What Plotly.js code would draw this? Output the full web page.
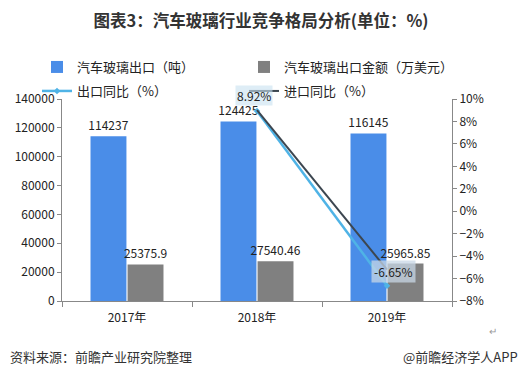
<!DOCTYPE html>
<html><head><meta charset="utf-8">
<script src="https://cdn.plot.ly/plotly-3.0.1.min.js"></script>
<style>html,body{margin:0;padding:0;background:#fff}#c{width:522px;height:379px}</style>
</head><body><div id="c"></div>
<script>
const categories = ['2017年', '2018年', '2019年'];
const exportTons = [114237, 124425, 116145];
const exportValue = [25375.9, 27540.46, 25965.85];
const exportYoY = [null, 8.92, -6.65];
const importYoY = [null, 9.0, -5.2];
const exportTonsLabels = ['114237', '124425', '116145'];
const exportValueLabels = ['25375.9', '27540.46', '25965.85'];

const font = '"Noto Sans CJK SC", "Noto Sans", sans-serif';
const traces = [
  {type:'bar', name:'汽车玻璃出口（吨）', x:categories, y:exportTons, marker:{color:'#4a8de8'}, legend:'legend',
   text:exportTonsLabels, textposition:'outside', constraintext:'none', cliponaxis:false, textfont:{size:12,color:'#222'}},
  {type:'bar', name:'汽车玻璃出口金额（万美元）', x:categories, y:exportValue, marker:{color:'#808080'}, legend:'legend',
   text:exportValueLabels, textposition:'outside', constraintext:'none', cliponaxis:false, textfont:{size:12,color:'#222'}},
  {type:'scatter', mode:'lines+markers', name:'出口同比（%）', x:categories, y:exportYoY, yaxis:'y2', legend:'legend2',
   line:{color:'#4fb3e6', width:2.5}, marker:{symbol:'diamond', size:5, color:'#4fb3e6'}},
  {type:'scatter', mode:'lines', name:'进口同比（%）', x:categories, y:importYoY, yaxis:'y2', legend:'legend2',
   line:{color:'#3c4650', width:2}}
];

const legendBase = {orientation:'h', xref:'paper', x:(37-62)/390, xanchor:'left', yref:'paper', yanchor:'middle',
  entrywidth:162, entrywidthmode:'pixels', font:{size:13, color:'#222'}, itemwidth:30,
  traceorder:'normal', bgcolor:'rgba(0,0,0,0)'};

const layout = {
  width:522, height:379,
  margin:{l:62, r:70, t:99, b:78, autoexpand:false},
  paper_bgcolor:'#fff', plot_bgcolor:'#fff',
  font:{family:font, size:12, color:'#333'},
  title:{text:'<b>图表3：汽车玻璃行业竞争格局分析(单位：%)</b>', x:0.5, xanchor:'center', y:0.945, yanchor:'middle',
         font:{size:16.5, color:'#333', family:font}},
  barmode:'group', bargap:0.43, bargroupgap:0.03,
  showlegend:true,
  legend:Object.assign({}, legendBase, {y:(301-67)/202}),
  legend2:Object.assign({}, legendBase, {y:(301-91)/202}),
  xaxis:{type:'category', showline:true, linecolor:'#888', linewidth:1, ticks:'outside', ticklen:5,
         tickcolor:'#888', tickson:'boundaries', showgrid:false, tickfont:{size:12, color:'#222'},
         ticklabelstandoff:6},
  yaxis:{range:[0,140000], dtick:20000, showline:true, linecolor:'#888', ticks:'outside', ticklen:4,
         tickcolor:'#888', showgrid:false, zeroline:false, tickfont:{size:12, color:'#222'}, tickformat:'d'},
  yaxis2:{overlaying:'y', side:'right', range:[-8,10], dtick:2, ticksuffix:'%', showline:true,
          linecolor:'#888', ticks:'outside', ticklen:4, tickcolor:'#888', showgrid:false, zeroline:false,
          tickfont:{size:12, color:'#222'}},
  annotations:[
    {x:categories[1], y:exportYoY[1], xref:'x', yref:'y2', text:exportYoY[1].toFixed(2)+'%', showarrow:false,
     yshift:16, xshift:-3, bgcolor:'rgba(200,225,240,0.6)', font:{size:12,color:'#222'}, borderpad:1},
    {x:categories[2], y:exportYoY[2], xref:'x', yref:'y2', text:exportYoY[2].toFixed(2)+'%', showarrow:false,
     yshift:14, xshift:6, bgcolor:'rgba(200,215,230,0.75)', font:{size:12,color:'#222'}, borderpad:2},
    {xref:'paper', yref:'paper', x:(8-62)/390, y:(301-356)/202, xanchor:'left', yanchor:'middle',
     showarrow:false, text:'资料来源：前瞻产业研究院整理', font:{size:13,color:'#333'}},
    {xref:'paper', yref:'paper', x:(520-62)/390, y:(301-356)/202, xanchor:'right', yanchor:'middle', showarrow:false,
     text:'@前瞻经济学人APP', font:{size:13,color:'#333'}},
    {xref:'paper', yref:'paper', x:(493-62)/390, y:(301-330)/202, xanchor:'center', yanchor:'middle', showarrow:false,
     text:'↵', font:{size:10,color:'#999'}}
  ]
};

Plotly.newPlot('c', traces, layout, {displayModeBar:false, staticPlot:true});
</script></body></html>
